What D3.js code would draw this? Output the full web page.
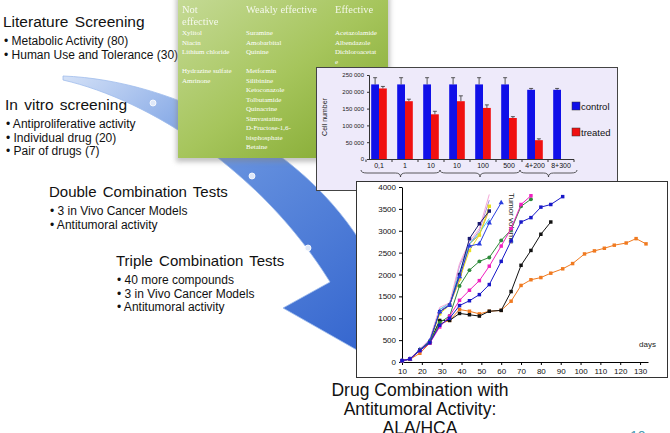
<!DOCTYPE html>
<html>
<head>
<meta charset="utf-8">
<script src="https://cdn.jsdelivr.net/npm/d3@7"></script>
<style>
  body { margin: 0; background: #fff; }
  svg { display: block; font-family: "Liberation Sans", Arial, sans-serif; }
</style>
</head>
<body>
<svg id="chart" width="670" height="433"></svg>
<script>
// ---- bar chart data (cell number) ----
var barLabels = ["0,1", "1", "10", "10", "100", "500", "4+200", "8+300"];
var controlVals = [222000, 222000, 222000, 222000, 222000, 222000, 206000, 206000];
var controlErr = [20000, 20000, 20000, 20000, 20000, 20000, 4000, 4000];
var treatedVals = [210000, 172000, 133000, 172000, 152000, 122000, 56000, 0];
var treatedErr = [6000, 6000, 9000, 16000, 9000, 4000, 4000, 0];
var barTicks = [0, 50000, 100000, 150000, 200000, 250000];

// ---- tumor volume curves (day, volume) ----
var orangeSeries = [[10,30],[14,60],[19,200],[24,430],[29,870],[34,950],[39,1200],[44,1160],[49,1100],[54,1160],[60,1180],[65,1390],[70,1750],[75,1880],[80,1930],[85,2030],[91,2130],[96,2250],[102,2470],[107,2540],[112,2600],[117,2670],[123,2720],[128,2820],[133,2700]];
var blackSeries = [[10,30],[14,70],[19,270],[24,460],[29,950],[34,950],[39,1110],[44,1080],[49,1050],[54,1160],[60,1180],[65,1610],[70,2210],[75,2550],[80,2920],[85,3200]];
var blueSeries = [[10,30],[14,70],[19,260],[24,440],[29,840],[34,1000],[39,1290],[44,1400],[49,1540],[54,1770],[60,2300],[65,2770],[70,3200],[75,3300],[80,3540],[85,3600],[91,3780]];
var magentaSeries = [[10,30],[14,70],[19,260],[24,430],[29,800],[34,1050],[39,1410],[44,1640],[49,1860],[54,2190],[60,2650],[65,3050],[70,3600],[75,3800]];
var greenSeries = [[10,30],[14,70],[19,270],[24,460],[29,900],[34,1050],[39,1740],[44,2100],[49,2300],[54,2390],[60,2780],[65,3020],[70,3560],[75,3720]];
var triangleSeries = [[10,30],[14,70],[19,280],[24,480],[29,1150],[34,1300],[39,1950],[44,2650],[49,2700],[54,3180],[60,3640]];
var navySeries = [[10,30],[14,70],[19,280],[24,470],[29,1150],[34,1300],[39,2000],[44,2820],[49,3160],[54,3450]];
var yellowSeries = [[10,30],[14,70],[19,270],[24,460],[29,1100],[34,1300],[39,1900],[44,2550],[49,2900],[54,3560]];
var cyanSeries = [[10,30],[14,70],[19,290],[24,500],[29,1200],[34,1350],[39,2050],[44,2700],[49,2950],[54,3280]];
var pinkSeries = [[10,30],[14,70],[19,300],[24,520],[29,1250],[34,1350],[39,2250],[44,2750],[49,3050],[54,3830]];
var lilacSeries = [[10,30],[14,70],[19,290],[24,510],[29,1200],[34,1300],[39,2200],[44,2700],[49,3000],[54,3700]];
var tanSeries = [[10,30],[14,70],[19,280],[24,480],[29,1150],[34,1320],[39,1850],[44,2700],[49,2900],[54,3480]];
var dayTicks = [10, 20, 30, 40, 50, 60, 70, 80, 90, 100, 110, 120, 130];
var volTicks = [0, 500, 1000, 1500, 2000, 2500, 3000, 3500, 4000];

// ---- table of drugs ----
var notEffective = ["Xylitol", "Niacin", "Lithium chloride", "", "Hydrazine  sulfate", "Amrinone"];
var weaklyEffective = ["Suramine", "Amobarbital", "Quinine", "", "Metformin", "Silibinine", "Ketoconazole", "Tolbutamide", "Quinacrine", "Simvastatine", "D-Fructose-1,6-", "bisphosphate", "Betaine"];
var effective = ["Acetazolamide", "Albendazole", "Dichloroacetat", "e"];

var svg = d3.select("#chart");
var defs = svg.append("defs");

// ---- arrow ----
var ag = defs.append("linearGradient").attr("id", "arrowGrad")
  .attr("x1", "0%").attr("y1", "0%").attr("x2", "100%").attr("y2", "100%");
ag.append("stop").attr("offset", "0%").attr("stop-color", "#d4e1f7");
ag.append("stop").attr("offset", "35%").attr("stop-color", "#6a95e0");
ag.append("stop").attr("offset", "100%").attr("stop-color", "#2d5fcc");

svg.append("path")
  .attr("d", "M63,76 C175,80 315,150 372,262 L405,275 L378,362 L283,308 L330,282 C262,172 150,100 63,80 Z")
  .attr("fill", "url(#arrowGrad)")
  .attr("stroke", "#9fbcec")
  .attr("stroke-width", 0.8);

[[153,103],[252,176],[308,248]].forEach(function(p){
  svg.append("circle").attr("cx", p[0]).attr("cy", p[1]).attr("r", 3)
    .attr("fill", "#dfe8f8").attr("stroke", "#fff").attr("stroke-width", 0.8);
});

// ---- left texts ----
function block(x, y, title, items, size) {
  svg.append("text").attr("x", x).attr("y", y).attr("font-size", size)
    .attr("fill", "#111").attr("word-spacing", 2).text(title);
  items.forEach(function(t, i){
    svg.append("text").attr("x", x + 1).attr("y", y + 18 + i * 13.5)
      .attr("font-size", 12).attr("fill", "#111")
      .text("\u2022 " + t);
  });
}
block(3, 27, "Literature Screening", ["Metabolic Activity (80)", "Human Use and Tolerance (30)"], 15.5);
block(5, 110, "In vitro screening", ["Antiproliferative activity", "Individual drug (20)", "Pair of drugs (7)"], 15.5);
block(49, 197, "Double Combination Tests", ["3 in Vivo Cancer Models", "Antitumoral activity"], 15);
block(116, 266, "Triple Combination Tests", ["40 more compounds", "3 in Vivo Cancer Models", "Antitumoral activity"], 15);

// ---- green table ----
var tg = defs.append("linearGradient").attr("id", "tableGrad")
  .attr("x1", "0%").attr("y1", "0%").attr("x2", "100%").attr("y2", "100%");
tg.append("stop").attr("offset", "0%").attr("stop-color", "#c5da96");
tg.append("stop").attr("offset", "50%").attr("stop-color", "#a6c55c");
tg.append("stop").attr("offset", "100%").attr("stop-color", "#7ea52a");
var blur = defs.append("filter").attr("id", "shadow").attr("x", "-10%").attr("y", "-10%").attr("width", "130%").attr("height", "130%");
blur.append("feGaussianBlur").attr("stdDeviation", 2.5);

svg.append("rect").attr("x", 176).attr("y", -4).attr("width", 214).attr("height", 166)
  .attr("fill", "#888").attr("opacity", 0.5).attr("filter", "url(#shadow)");
svg.append("rect").attr("x", 178).attr("y", -4).attr("width", 210).attr("height", 162)
  .attr("fill", "url(#tableGrad)");

var table = svg.append("g").attr("font-family", "'Liberation Serif', 'DejaVu Serif', serif").attr("fill", "#fff");
table.append("text").attr("x", 182).attr("y", 13).attr("font-size", 10.5).attr("opacity", 0.85).text("Not");
table.append("text").attr("x", 182).attr("y", 25).attr("font-size", 10.5).attr("opacity", 0.85).text("effective");
table.append("text").attr("x", 246).attr("y", 13).attr("font-size", 10.5).attr("opacity", 0.85).text("Weakly effective");
table.append("text").attr("x", 335).attr("y", 13).attr("font-size", 10.5).attr("opacity", 0.85).text("Effective");
function column(x, list) {
  list.forEach(function(t, i){
    table.append("text").attr("x", x).attr("y", 35 + i * 9.5).attr("font-size", 7).text(t);
  });
}
column(182, notEffective);
column(246, weaklyEffective);
column(335, effective);

// ---- bar chart ----
svg.append("rect").attr("x", 316.5).attr("y", 67.5).attr("width", 301).attr("height", 123)
  .attr("fill", "#eeeafa").attr("stroke", "#444");

var bx = d3.scaleBand().domain(d3.range(barLabels.length)).range([366, 574]).paddingInner(0.4).paddingOuter(0.2);
var by = d3.scaleLinear().domain([0, 250000]).range([159, 75]);

var yAx = svg.append("g").attr("transform", "translate(369,0)")
  .call(d3.axisLeft(by).tickValues(barTicks).tickSize(2).tickFormat(function(d){ return d3.format(",")(d).replace(",", " "); }));
yAx.selectAll("text").attr("font-size", 6).attr("fill", "#222");
yAx.select(".domain").attr("stroke", "#333");
yAx.selectAll("line").attr("stroke", "#333");

svg.append("text").attr("transform", "translate(327,117) rotate(-90)")
  .attr("text-anchor", "middle").attr("font-size", 7).attr("fill", "#222").text("Cell number");

var bw = bx.bandwidth() / 2;
barLabels.forEach(function(lab, i){
  var x0 = bx(i);
  svg.append("rect").attr("x", x0).attr("y", by(controlVals[i])).attr("width", bw)
    .attr("height", by(0) - by(controlVals[i])).attr("fill", "#1010e8");
  if (treatedVals[i] > 0) {
    svg.append("rect").attr("x", x0 + bw).attr("y", by(treatedVals[i])).attr("width", bw)
      .attr("height", by(0) - by(treatedVals[i])).attr("fill", "#f01010");
  }
  [[x0 + bw / 2, controlVals[i], controlErr[i]], [x0 + bw * 1.5, treatedVals[i], treatedErr[i]]].forEach(function(e){
    if (e[1] <= 0) return;
    var top = by(e[1] + e[2]);
    svg.append("line").attr("x1", e[0]).attr("x2", e[0]).attr("y1", by(e[1])).attr("y2", top).attr("stroke", "#333").attr("stroke-width", 0.8);
    svg.append("line").attr("x1", e[0] - 2).attr("x2", e[0] + 2).attr("y1", top).attr("y2", top).attr("stroke", "#333").attr("stroke-width", 0.8);
  });
  svg.append("text").attr("x", x0 + bx.bandwidth() / 2).attr("y", 168).attr("text-anchor", "middle")
    .attr("font-size", 7).attr("fill", "#111").text(lab);
});
svg.append("line").attr("x1", 369).attr("x2", 574).attr("y1", 159.5).attr("y2", 159.5).attr("stroke", "#333");
d3.range(barLabels.length + 1).forEach(function(i){
  var x = 366 + i * bx.step();
  svg.append("line").attr("x1", x).attr("x2", x).attr("y1", 159.5).attr("y2", 162).attr("stroke", "#333");
});

// braces under groups
function brace(x0, x1, y) {
  var m = (x0 + x1) / 2;
  return "M" + x0 + "," + (y - 3) + " Q" + x0 + "," + y + " " + (x0 + 6) + "," + y +
    " L" + (m - 5) + "," + y + " Q" + m + "," + y + " " + m + "," + (y + 4) +
    " Q" + m + "," + y + " " + (m + 5) + "," + y +
    " L" + (x1 - 6) + "," + y + " Q" + x1 + "," + y + " " + x1 + "," + (y - 3);
}
[[361, 440], [440, 520], [520, 577]].forEach(function(b){
  svg.append("path").attr("d", brace(b[0], b[1], 173)).attr("fill", "none").attr("stroke", "#333").attr("stroke-width", 0.8);
});

// legend
[["control", "#1010e8", 102], ["treated", "#f01010", 128]].forEach(function(l){
  svg.append("rect").attr("x", 572).attr("y", l[2]).attr("width", 8).attr("height", 8).attr("fill", l[1]).attr("stroke", "#333").attr("stroke-width", 0.5);
  svg.append("text").attr("x", 581).attr("y", l[2] + 7.5).attr("font-size", 9.5).attr("fill", "#111").text(l[0]);
});

// ---- tumor volume chart ----
svg.append("rect").attr("x", 356.5).attr("y", 181.5).attr("width", 311).attr("height", 196)
  .attr("fill", "#fff").attr("stroke", "#333");

var lx = d3.scaleLinear().domain([10, 134]).range([402, 648]);
var ly = d3.scaleLinear().domain([0, 4000]).range([362, 187]);

var xAx = svg.append("g").attr("transform", "translate(0,362)")
  .call(d3.axisBottom(lx).tickValues(dayTicks).tickSize(3).tickSizeOuter(0));
xAx.selectAll("text").attr("font-size", 8).attr("fill", "#111");
var lyAx = svg.append("g").attr("transform", "translate(402,0)")
  .call(d3.axisLeft(ly).tickValues(volTicks).tickSize(3).tickSizeOuter(0).tickFormat(d3.format("d")));
lyAx.selectAll("text").attr("font-size", 8).attr("fill", "#111");

svg.append("text").attr("transform", "translate(509,193) rotate(90)")
  .attr("font-size", 8).attr("fill", "#222").text("Tumor volume");
svg.append("text").attr("x", 639).attr("y", 347).attr("font-size", 8).attr("fill", "#222").text("days");

var line = d3.line().x(function(d){ return lx(d[0]); }).y(function(d){ return ly(d[1]); });
var allSeries = [
  { data: orangeSeries, color: "#f07a20", mark: "square" },
  { data: blackSeries, color: "#111", mark: "square" },
  { data: tanSeries, color: "#e0a040", mark: "none" },
  { data: lilacSeries, color: "#b08ee0", mark: "none" },
  { data: cyanSeries, color: "#40d0e8", mark: "none" },
  { data: yellowSeries, color: "#e8e020", mark: "square" },
  { data: pinkSeries, color: "#f5a8d8", mark: "none" },
  { data: navySeries, color: "#1a1a70", mark: "square" },
  { data: triangleSeries, color: "#2a3ee0", mark: "triangle" },
  { data: greenSeries, color: "#2e8a3a", mark: "circle" },
  { data: magentaSeries, color: "#f020c0", mark: "square" },
  { data: blueSeries, color: "#1818c8", mark: "square" }
];
allSeries.forEach(function(s){
  svg.append("path").datum(s.data).attr("d", line).attr("fill", "none")
    .attr("stroke", s.color).attr("stroke-width", 1);
  if (s.mark === "none") return;
  var sym = s.mark === "triangle" ? d3.symbolTriangle : (s.mark === "circle" ? d3.symbolCircle : d3.symbolSquare);
  svg.selectAll(null).data(s.data).enter().append("path")
    .attr("transform", function(d){ return "translate(" + lx(d[0]) + "," + ly(d[1]) + ")"; })
    .attr("d", d3.symbol().type(sym).size(12))
    .attr("fill", s.color);
});

// ---- bottom title ----
var title = ["Drug Combination with", "Antitumoral Activity:", "ALA/HCA"];
title.forEach(function(t, i){
  svg.append("text").attr("x", 420).attr("y", 396 + i * 19).attr("text-anchor", "middle")
    .attr("font-size", 17.5).attr("fill", "#111").text(t);
});
svg.append("text").attr("x", 630).attr("y", 441).attr("font-size", 14).attr("fill", "#4a9ab0").text("10");
</script>
</body>
</html>
